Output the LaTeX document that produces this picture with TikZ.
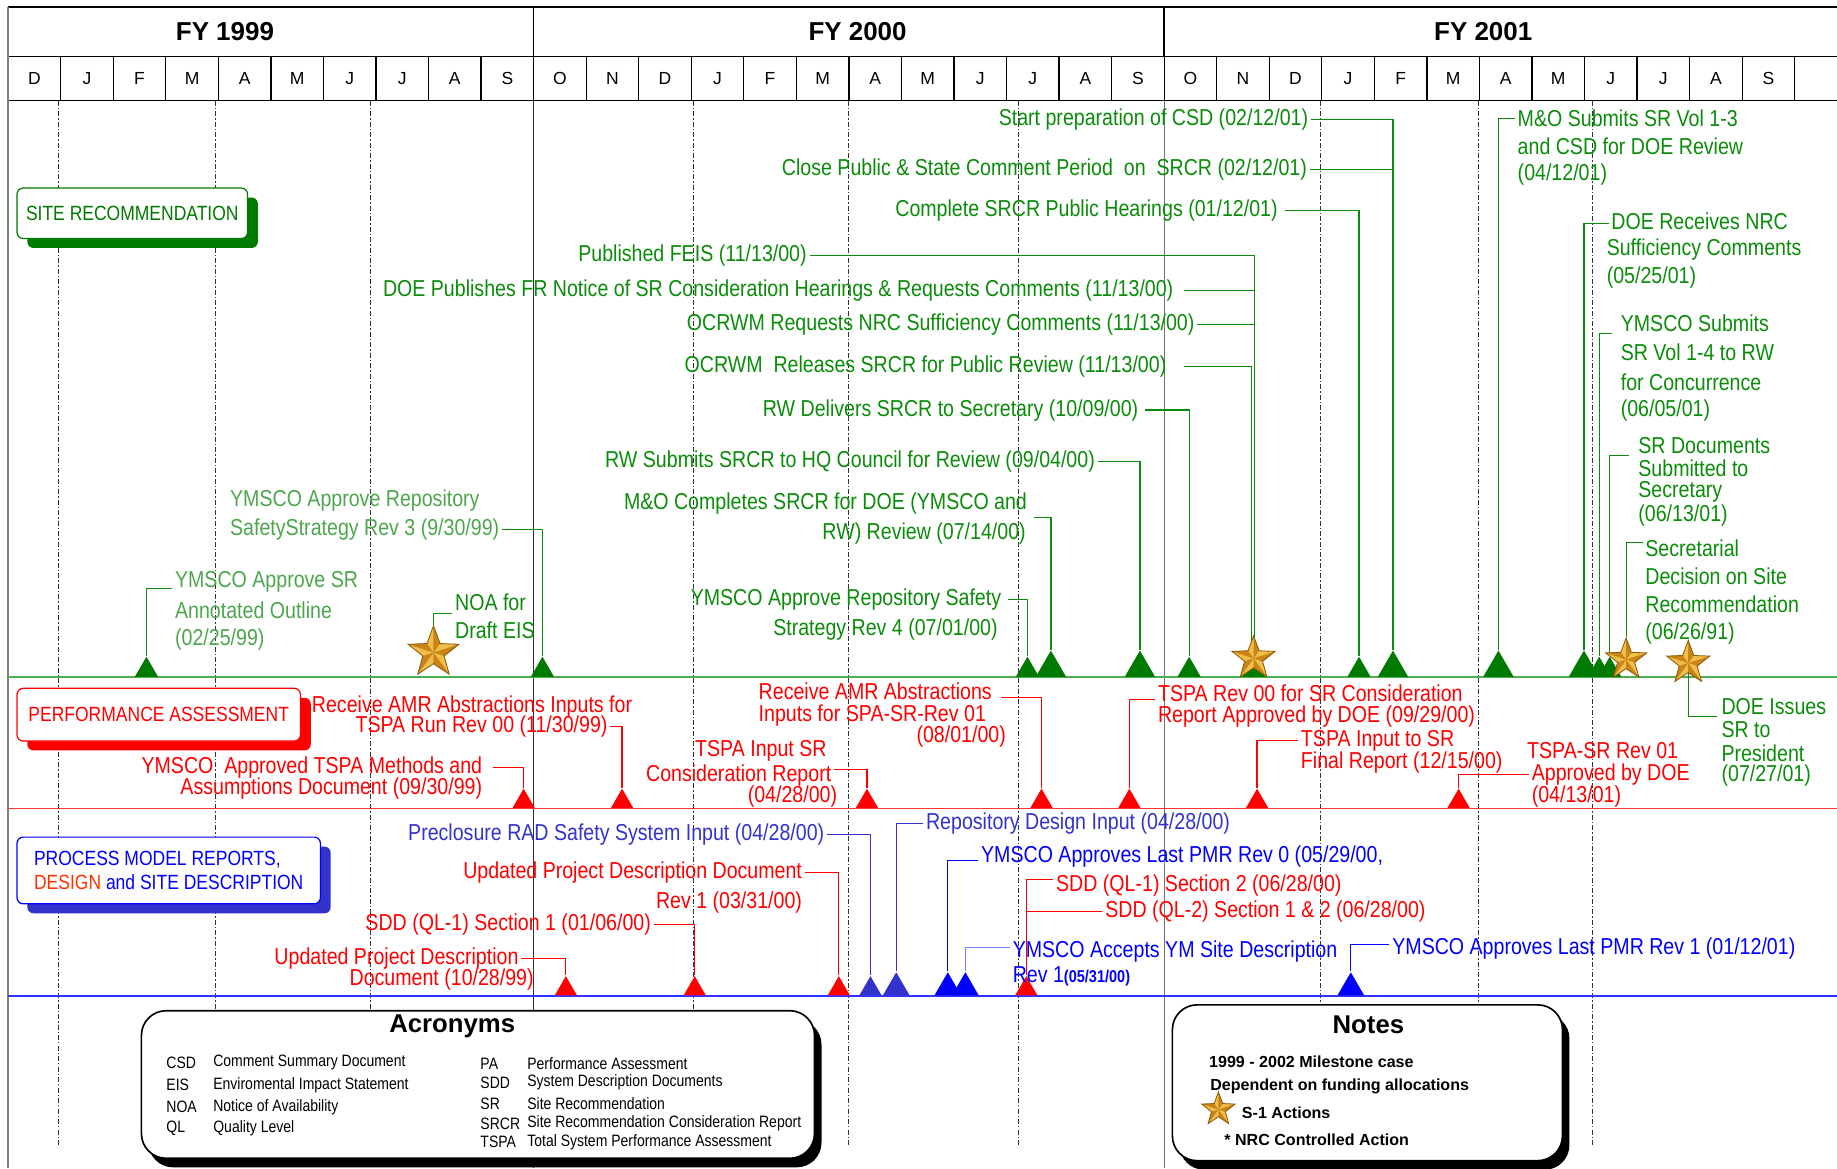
\documentclass[tikz,border=0pt]{standalone}
\usepackage{fontspec}
\setmainfont{Liberation Sans}
\newfontfamily\nar[FakeStretch=0.85]{Liberation Sans}
\usepackage{xcolor}
\usepackage{tikz}
\usetikzlibrary{shapes.geometric}
\usetikzlibrary{shadows}
\usetikzlibrary{calc}

\definecolor{sgreen}{HTML}{0A8C0A}
\definecolor{lgreen}{HTML}{4DA64D}
\definecolor{mgreen}{HTML}{007A00}
\definecolor{lanegreen}{HTML}{4CAF50}
\definecolor{sred}{HTML}{FF0000}
\definecolor{sblue}{HTML}{0000FF}
\definecolor{slate}{HTML}{3333CC}
\definecolor{lblue}{HTML}{7080FF}
\definecolor{dorange}{HTML}{FF3300}
\definecolor{starlight}{HTML}{F0BE48}
\definecolor{starmid}{HTML}{C98418}
\definecolor{stardark}{HTML}{8A5A08}
\definecolor{gridgray}{HTML}{333333}

\pgfdeclarelayer{grid}
\pgfdeclarelayer{leads}
\pgfsetlayers{grid,leads,main}

\tikzset{
  lbl/.style={font=\nar\fontsize{11.2}{12}\selectfont, inner sep=1.2pt},
  gtxt/.style={lbl, text=sgreen},
  ltxt/.style={lbl, text=lgreen},
  rtxt/.style={lbl, text=sred},
  btxt/.style={lbl, text=sblue},
  stxt/.style={lbl, text=slate},
  gline/.style={draw=sgreen, line width=0.6pt},
  rline/.style={draw=sred, line width=0.6pt},
  bline/.style={draw=sblue, line width=0.6pt},
  sline/.style={draw=slate, line width=0.6pt},
  lbline/.style={draw=lblue, line width=0.6pt},
  mk/.style={regular polygon, regular polygon sides=3, inner sep=0pt, anchor=south, minimum size=#1},
  gmk/.style={mk=13pt, fill=mgreen},
  gbig/.style={mk=17pt, fill=mgreen},
  rmk/.style={mk=12.5pt, fill=sred},
  bmk/.style={mk=15pt, fill=sblue},
  smk/.style={mk=#1, fill=slate},
  gstar/.style={star, star points=5, star point ratio=2.4, inner sep=0pt, minimum size=#1,
    fill=starlight, draw=stardark, line width=0.4pt,
    path picture={\foreach \a [evaluate=\a as \b using \a-36] in {90,162,234,306,378}
      {\fill[starmid, shift={(path picture bounding box.center)}] (0,0) -- (\a:2cm) -- (\b:2cm) -- cycle;}}},
  month/.style={font=\fontsize{8.5}{10}\selectfont},
  fytitle/.style={font=\bfseries\fontsize{12.6}{14}\selectfont},
  qline/.style={gridgray, line width=0.4pt, dash pattern=on 2.5pt off 1pt on 0.6pt off 1pt},
  lanebox/.style={rounded corners=3pt, fill=white, line width=0.6pt, inner sep=0pt,
    anchor=north west, font=\nar\fontsize{10}{12}\selectfont,
    drop shadow={shadow xshift=5pt, shadow yshift=-4.6pt, fill=#1, opacity=1}},
  infobox/.style={draw=black, line width=0.8pt, fill=white, rounded corners=12pt, inner sep=0pt,
    anchor=north west, drop shadow={shadow xshift=3.4pt, shadow yshift=-4.4pt, fill=black, opacity=1}},
  boxtitle/.style={font=\bfseries\fontsize{12.5}{14}\selectfont},
  acr/.style={font=\nar\fontsize{8}{9}\selectfont, inner sep=1pt, anchor=west},
  note/.style={font=\bfseries\fontsize{7.8}{9}\selectfont, inner sep=1pt, anchor=west}
}

\begin{document}
\begin{tikzpicture}[x=0.02cm, y=-0.02cm]
\useasboundingbox (0,0) rectangle (1568,997);

% calendar header and grid
\begin{pgfonlayer}{grid}
  \draw[line width=0.7pt] (7,6) -- (1568,6);
  \draw[line width=0.7pt] (7,48) -- (1568,48);
  \draw[line width=0.7pt] (7,86) -- (1568,86);
  \draw[line width=0.7pt] (455.5,6) -- (455.5,48);
  \draw[line width=0.7pt] (993.7,6) -- (993.7,48);
  \foreach \k in {1,...,34}
    \draw[line width=0.6pt] ({7+44.85*\k},48) -- ({7+44.85*\k},86);
  \draw[gray, line width=1pt] (7,6) -- (7,997);
  \draw[black!80, line width=0.6pt] (455.5,86) -- (455.5,997);
  \draw[black!55, line width=0.6pt] (993.7,86) -- (993.7,997);
  \foreach \x in {50,184,316,592,724,869,1127,1262,1359}
    \draw[qline] (\x,86) -- (\x,978);
  % lanes
  \draw[lanegreen, line width=0.8pt] (7,578) -- (1568,578);
  \draw[sred!80, line width=0.8pt] (7,690) -- (1568,690);
  \draw[sblue!80, line width=0.8pt] (7,850) -- (1568,850);
\end{pgfonlayer}

\node[fytitle] (fy99) at (192,27) {FY 1999};
\node[fytitle] (fy00) at (732,27) {FY 2000};
\node[fytitle] (fy01) at (1266,27) {FY 2001};
\foreach \m [count=\k from 0] in {D,J,F,M,A,M,J,J,A,S,O,N,D,J,F,M,A,M,J,J,A,S,O,N,D,J,F,M,A,M,J,J,A,S}
  \node[month] (mo\k) at ({29.4+44.85*\k},67) {\m};

% lane labels
\node[lanebox=mgreen, draw=mgreen, text=mgreen, minimum width=112pt, minimum height=24.5pt] (sr) at (14,160) {SITE RECOMMENDATION};
\node[lanebox=sred, draw=sred, text=sred, minimum width=137.7pt, minimum height=25.6pt] (pa) at (14,587) {PERFORMANCE ASSESSMENT};
\node[lanebox=slate, draw=sblue, align=left, minimum width=147.4pt, minimum height=32.4pt] (pmr) at (14,714)
  {\textcolor{sblue}{PROCESS MODEL REPORTS,}\\\textcolor{dorange}{DESIGN} \textcolor{sblue}{and SITE DESCRIPTION}};

% site recommendation milestones
\node[gmk] (m-ao) at (125,578) {};
\node[gmk] (m-r3) at (463,578) {};
\node[gmk] (m-r4) at (877,578) {};
\node[gbig] (m-mo) at (897,578) {};
\node[gbig] (m-hq) at (973,578) {};
\node[gmk] (m-deliv) at (1015,578) {};
\node[gmk] (m-nov) at (1070,578) {};
\node[gmk] (m-hear) at (1160,578) {};
\node[gbig] (m-csd) at (1189,578) {};
\node[gbig] (m-apr) at (1279,578) {};
\node[gbig] (m-may) at (1352,578) {};
\node[gmk] (m-jun5) at (1365,578) {};
\node[gmk] (m-jun13) at (1374,578) {};
\node[gstar=26pt] (s-noa) at (370,557) {};
\node[gstar=22pt] (s-nov) at (1070,562) {};
\node[gstar=21pt] (s-jun26) at (1388,563) {};
\node[gstar=22pt] (s-pres) at (1441,566) {};

\node[gtxt, anchor=east] (g-csd) at (1119,102) {Start preparation of CSD (02/12/01)};
\node[gtxt, anchor=east] (g-close) at (1118,145) {Close Public \& State Comment Period\ \ on\ \ SRCR (02/12/01)};
\node[gtxt, anchor=east] (g-hear) at (1093,180) {Complete SRCR Public Hearings (01/12/01)};
\node[gtxt, anchor=east] (g-feis) at (691,218) {Published FEIS (11/13/00)};
\node[gtxt, anchor=east] (g-fr) at (1004,248) {DOE Publishes FR Notice of SR Consideration Hearings \& Requests Comments (11/13/00)};
\node[gtxt, anchor=east] (g-nrc) at (1022,277) {OCRWM Requests NRC Sufficiency Comments (11/13/00)};
\node[gtxt, anchor=east] (g-rel) at (998,313) {OCRWM\ \ Releases SRCR for Public Review (11/13/00)};
\node[gtxt, anchor=east] (g-deliv) at (974,350) {RW Delivers SRCR to Secretary (10/09/00)};
\node[gtxt, anchor=east] (g-hq) at (937,394) {RW Submits SRCR to HQ Council for Review (09/04/00)};
\node[gtxt, anchor=east] (g-mo1) at (879,430) {M\&O Completes SRCR for DOE (YMSCO and};
\node[gtxt, anchor=east] (g-mo2) at (878,455) {RW) Review (07/14/00)};
\node[gtxt, anchor=east] (g-r4a) at (857,512) {YMSCO Approve Repository Safety};
\node[gtxt, anchor=east] (g-r4b) at (854,537) {Strategy Rev 4 (07/01/00)};
\node[ltxt, anchor=west] (l-r3a) at (194,427) {YMSCO Approve Repository};
\node[ltxt, anchor=west] (l-r3b) at (194,452) {SafetyStrategy Rev 3 (9/30/99)};
\node[ltxt, anchor=west] (l-ao1) at (147,497) {YMSCO Approve SR};
\node[ltxt, anchor=west] (l-ao2) at (147,521) {Annotated Outline};
\node[ltxt, anchor=west] (l-ao3) at (147,546) {(02/25/99)};
\node[gtxt, anchor=west] (g-noa1) at (386,514) {NOA for};
\node[gtxt, anchor=west] (g-noa2) at (386,538) {Draft EIS};
\node[gtxt, anchor=west] (g-apr1) at (1293,101) {M\&O Submits SR Vol 1-3};
\node[gtxt, anchor=west] (g-apr2) at (1293,125) {and CSD for DOE Review};
\node[gtxt, anchor=west] (g-apr3) at (1293,149) {(04/12/01)};
\node[gtxt, anchor=west] (g-may1) at (1373,189) {DOE Receives NRC};
\node[gtxt, anchor=west] (g-may2) at (1369,213) {Sufficiency Comments};
\node[gtxt, anchor=west] (g-may3) at (1369,237) {(05/25/01)};
\node[gtxt, anchor=west] (g-jun5a) at (1381,276) {YMSCO Submits};
\node[gtxt, anchor=west] (g-jun5b) at (1381,301) {SR Vol 1-4 to RW};
\node[gtxt, anchor=west] (g-jun5c) at (1381,326) {for Concurrence};
\node[gtxt, anchor=west] (g-jun5d) at (1381,350) {(06/05/01)};
\node[gtxt, anchor=west] (g-jun13a) at (1396,380) {SR Documents};
\node[gtxt, anchor=west] (g-jun13b) at (1396,400) {Submitted to};
\node[gtxt, anchor=west] (g-jun13c) at (1396,420) {Secretary};
\node[gtxt, anchor=west] (g-jun13d) at (1396,440) {(06/13/01)};
\node[gtxt, anchor=west] (g-jun26a) at (1402,468) {Secretarial};
\node[gtxt, anchor=west] (g-jun26b) at (1402,492) {Decision on Site};
\node[gtxt, anchor=west] (g-jun26c) at (1402,516) {Recommendation};
\node[gtxt, anchor=west] (g-jun26d) at (1402,541) {(06/26/91)};
\node[gtxt, anchor=west] (g-pres1) at (1467,603) {DOE Issues};
\node[gtxt, anchor=west] (g-pres2) at (1467,623) {SR to};
\node[gtxt, anchor=west] (g-pres3) at (1467,643) {President};
\node[gtxt, anchor=west] (g-pres4) at (1467,662) {(07/27/01)};

% performance assessment milestones
\node[rmk] (m-meth) at (447,690) {};
\node[rmk] (m-amr1) at (531,690) {};
\node[rmk] (m-tin) at (740,690) {};
\node[rmk] (m-amr2) at (889,690) {};
\node[rmk] (m-rev00) at (964,690) {};
\node[rmk] (m-fin) at (1073,690) {};
\node[rmk] (m-rev01) at (1245,690) {};

\node[rtxt, anchor=east] (r-amr1a) at (542,603) {Receive AMR Abstractions Inputs for};
\node[rtxt, anchor=east] (r-amr1b) at (521,620) {TSPA Run Rev 00 (11/30/99)};
\node[rtxt, anchor=east] (r-meth1) at (414,655) {YMSCO\ \ Approved TSPA Methods and};
\node[rtxt, anchor=east] (r-meth2) at (414,673) {Assumptions Document (09/30/99)};
\node[rtxt, anchor=east] (r-amr2a) at (849,590) {Receive AMR Abstractions};
\node[rtxt, anchor=east] (r-amr2b) at (844,611) {Inputs for SPA-SR-Rev 01};
\node[rtxt, anchor=east] (r-amr2c) at (861,629) {(08/01/00)};
\node[rtxt, anchor=east] (r-tin1) at (708,641) {TSPA Input SR};
\node[rtxt, anchor=east] (r-tin2) at (712,662) {Consideration Report};
\node[rtxt, anchor=east] (r-tin3) at (717,680) {(04/28/00)};
\node[rtxt, anchor=west] (r-rev00a) at (986,592) {TSPA Rev 00 for SR Consideration};
\node[rtxt, anchor=west] (r-rev00b) at (986,612) {Report Approved by DOE (09/29/00)};
\node[rtxt, anchor=west] (r-fin1) at (1108,632) {TSPA Input to SR};
\node[rtxt, anchor=west] (r-fin2) at (1108,651) {Final Report (12/15/00)};
\node[rtxt, anchor=west] (r-rev01a) at (1301,641) {TSPA-SR Rev 01};
\node[rtxt, anchor=west] (r-rev01b) at (1305,661) {Approved by DOE};
\node[rtxt, anchor=west] (r-rev01c) at (1305,680) {(04/13/01)};

% process model, design and site description milestones
\node[rmk] (m-upd0) at (483,850) {};
\node[rmk] (m-sdd1) at (593,850) {};
\node[rmk] (m-upd1) at (716,850) {};
\node[smk=12.5pt] (m-pre) at (743,850) {};
\node[smk=15pt] (m-rep) at (765,850) {};
\node[bmk] (m-pmr0) at (809,850) {};
\node[bmk] (m-site) at (824,850) {};
\node[rmk] (m-sdd) at (876,850) {};
\node[bmk] (m-pmr1) at (1153,850) {};

\node[stxt, anchor=east] (s-pre) at (706,712) {Preclosure RAD Safety System Input (04/28/00)};
\node[stxt, anchor=west] (s-rep) at (788,703) {Repository Design Input (04/28/00)};
\node[btxt, anchor=west] (b-pmr0) at (835,731) {YMSCO Approves Last PMR Rev 0 (05/29/00,};
\node[rtxt, anchor=west] (r-sdd2) at (899,756) {SDD (QL-1) Section 2 (06/28/00)};
\node[rtxt, anchor=west] (r-sdd3) at (941,778) {SDD (QL-2) Section 1 \& 2 (06/28/00)};
\node[btxt, anchor=west] (b-site1) at (862,812) {YMSCO Accepts YM Site Description};
\node[btxt, anchor=west] (b-site2) at (862,833) {Rev 1{\bfseries\fontsize{8.3}{9}\selectfont(05/31/00)}};
\node[btxt, anchor=west] (b-pmr1) at (1186,810) {YMSCO Approves Last PMR Rev 1 (01/12/01)};
\node[rtxt, anchor=east] (r-upd1a) at (687,745) {Updated Project Description Document};
\node[rtxt, anchor=east] (r-upd1b) at (687,770) {Rev 1 (03/31/00)};
\node[rtxt, anchor=east] (r-sdd1) at (558,789) {SDD (QL-1) Section 1 (01/06/00)};
\node[rtxt, anchor=east] (r-upd0a) at (445,818) {Updated Project Description};
\node[rtxt, anchor=east] (r-upd0b) at (458,836) {Document (10/28/99)};

% leader lines
\begin{pgfonlayer}{leads}
  \draw[gline] (g-csd.east) -| (m-csd.north);
  \draw[gline] (g-close.east) -| (m-csd.north);
  \draw[gline] ([xshift=2pt]g-hear.east) -| (m-hear.north);
  \draw[gline] (g-feis.east) -| ([xshift=0.6pt]s-nov.center);
  \draw[gline] ([xshift=4pt]g-fr.east) -| ([xshift=0.6pt]s-nov.center);
  \draw[gline] (g-nrc.east) -| ([xshift=0.6pt]s-nov.center);
  \draw[gline] ([xshift=7pt]g-rel.east) -| ([xshift=-1pt]s-nov.center);
  \draw[gline] ([xshift=2pt]g-deliv.east) -| (m-deliv.north);
  \draw[gline] (g-hq.east) -| (m-hq.north);
  \draw[gline] ([xshift=2pt]g-mo1.south east) -| (m-mo.north);
  \draw[gline] ([xshift=2pt]g-r4a.east) -| (m-r4.north);
  \draw[gline] (l-r3b.east) -| (m-r3.north);
  \draw[gline] ([yshift=-3pt]l-ao1.west) -| (m-ao.north);
  \draw[gline] (g-noa1.south west) -| (s-noa.north);
  \draw[gline] (g-apr1.west) -| (m-apr.north);
  \draw[gline] ([yshift=-1pt]g-may1.west) -| (m-may.north);
  \draw[gline] ([xshift=-3pt,yshift=-5pt]g-jun5a.west) -| (m-jun5.north);
  \draw[gline] ([xshift=-3pt,yshift=-5pt]g-jun13a.west) -| (m-jun13.north);
  \draw[gline] ([yshift=3pt]g-jun26a.west) -| (s-jun26.north);
  \draw[gline] (s-pres.center) |- ([xshift=-1pt,yshift=-5pt]g-pres1.west);
  \draw[rline] ([xshift=4pt]r-meth1.east) -| (m-meth.north);
  \draw[rline] (r-amr1b.east) -| (m-amr1.north);
  \draw[rline] ([xshift=3pt,yshift=-3pt]r-amr2a.east) -| (m-amr2.north);
  \draw[rline] ([yshift=3pt]r-tin2.east) -| (m-tin.north);
  \draw[rline] ([yshift=-3pt]r-rev00a.west) -| (m-rev00.north);
  \draw[rline] (r-fin1.west) -| (m-fin.north);
  \draw[rline] (r-rev01b.west) -| (m-rev01.north);
  \draw[sline] (s-pre.east) -| (m-pre.north);
  \draw[sline] (s-rep.west) -| (m-rep.north);
  \draw[bline] ([yshift=-2pt]b-pmr0.west) -| (m-pmr0.north);
  \draw[rline] ([yshift=3pt]r-sdd2.west) -| (m-sdd.north);
  \draw[rline] (r-sdd3.west) -| (m-sdd.north);
  \draw[lbline] ([yshift=2pt]b-site1.west) -| (m-site.north);
  \draw[bline] ([yshift=2pt]b-pmr1.west) -| (m-pmr1.north);
  \draw[rline] (r-upd1a.east) -| (m-upd1.north);
  \draw[rline] (r-sdd1.east) -| (m-sdd1.north);
  \draw[rline] (r-upd0a.east) -| (m-upd0.north);
\end{pgfonlayer}

% acronyms
\node[infobox, minimum width=327pt, minimum height=71.7pt] (acro) at (120,862) {};
\node[boxtitle] (acro-t) at (386,876) {Acronyms};
\foreach \ab/\de/\yy in {CSD/Comment Summary Document/907, EIS/Enviromental Impact Statement/926,
    NOA/Notice of Availability/945, QL/Quality Level/963}
  {\node[acr] (ab-\ab) at (140,\yy) {\ab};
   \node[acr] (de-\ab) at (180,\yy) {\de};}
\foreach \ab/\de/\yy in {PA/Performance Assessment/908, SDD/System Description Documents/924,
    SR/Site Recommendation/942, SRCR/Site Recommendation Consideration Report/959,
    TSPA/Total System Performance Assessment/975}
  {\node[acr] (ab-\ab) at (408,\yy) {\ab};
   \node[acr] (de-\ab) at (448,\yy) {\de};}

% notes
\node[infobox, minimum width=189.5pt, minimum height=75.7pt] (notes) at (1000,857) {};
\node[boxtitle] (notes-t) at (1168,875) {Notes};
\node[note] (n1) at (1030,906) {1999 - 2002 Milestone case};
\node[note] (n2) at (1031,927) {Dependent on funding allocations};
\node[gstar=17pt] (n-star) at (1040,947) {};
\node[note] (n3) at (1058,950) {S-1 Actions};
\node[note] (n4) at (1043,973) {* NRC Controlled Action};
\end{tikzpicture}
\end{document}
